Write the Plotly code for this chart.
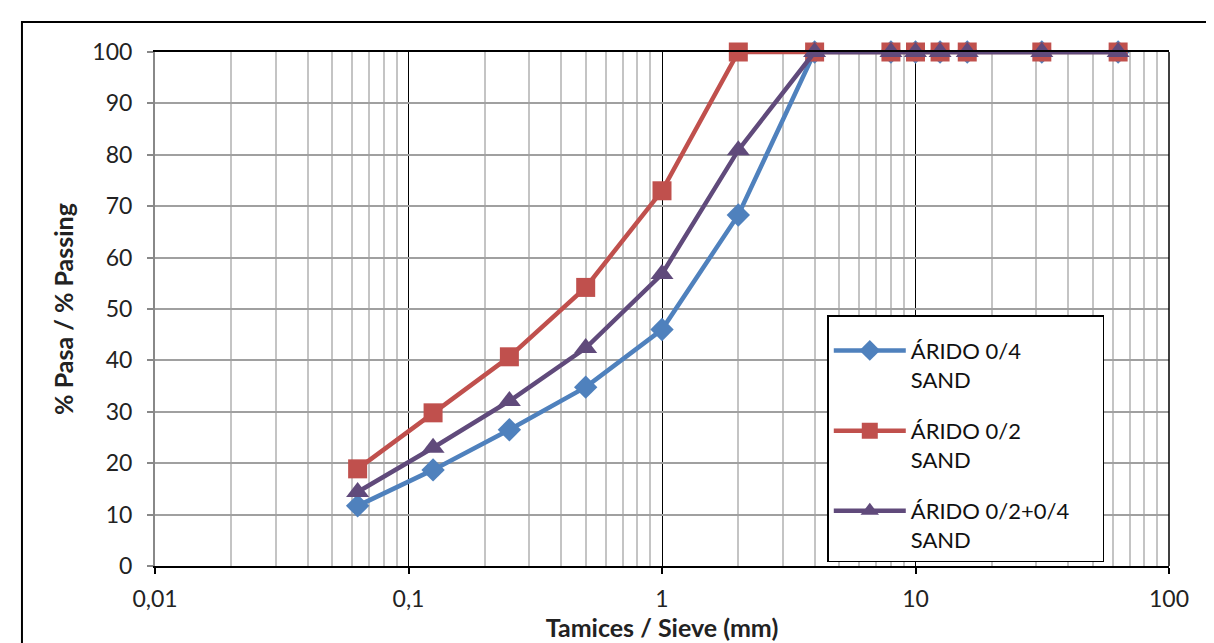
import plotly.graph_objects as go

sieves = [0.063, 0.125, 0.25, 0.5, 1, 2, 4, 8, 10, 12.5, 16, 31.5, 63]
arido_04 = [11.7, 18.7, 26.5, 34.8, 46.0, 68.3, 100, 100, 100, 100, 100, 100, 100]
arido_02 = [18.9, 29.8, 40.7, 54.2, 73.0, 100, 100, 100, 100, 100, 100, 100, 100]
arido_mix = [14.4, 23.0, 32.1, 42.4, 56.8, 80.9, 100, 100, 100, 100, 100, 100, 100]

names = ["ÁRIDO 0/4<br>SAND", "ÁRIDO 0/2<br>SAND", "ÁRIDO 0/2+0/4&nbsp;&nbsp;&nbsp;&nbsp;&nbsp;<br>SAND"]
colors = ["#4F81BD", "#C0504D", "#604A7B"]
symbols = ["diamond", "square", "triangle-up"]
sizes = [18, 19, 20]

x_tickvals = [0.01, 0.1, 1, 10, 100]
x_ticktext = ["0,01", "0,1", "1", "10", "100"]
y_tickvals = list(range(0, 101, 10))
minor_vals = [m * d for d in [0.01, 0.1, 1, 10] for m in range(2, 10)]

FONT = "Lato, 'Open Sans', sans-serif"

fig = go.Figure()
for i, ys in enumerate([arido_04, arido_02, arido_mix]):
    fig.add_trace(go.Scatter(
        x=sieves, y=ys, name=names[i], mode="lines+markers",
        line=dict(color=colors[i], width=4.5),
        marker=dict(symbol=symbols[i], size=sizes[i], color=colors[i]),
        legendgroup=str(i), cliponaxis=False,
    ))

fig.update_layout(
    width=1214, height=643,
    margin=dict(l=147, r=53, t=44, b=85, autoexpand=False),
    paper_bgcolor="white", plot_bgcolor="white",
    font=dict(family=FONT, size=22, color="#222"),
    showlegend=True,
    legend=dict(
        x=0.663, y=0.488, xanchor="left", yanchor="top",
        bordercolor="black", borderwidth=1.5, bgcolor="white",
        font=dict(family=FONT, size=22, color="#111"),
        tracegroupgap=20, traceorder="grouped",
        itemwidth=72, valign="top",
        title=dict(text=" ", font=dict(size=10)),
    ),
    xaxis=dict(
        type="log", range=[-2, 2], automargin=False,
        tickvals=x_tickvals, ticktext=x_ticktext,
        showgrid=True, gridcolor="black", gridwidth=1.2,
        ticks="outside", ticklen=6, tickcolor="black", tickwidth=1.5,
        showline=True, linecolor="black", linewidth=1.5, mirror=True,
        minor=dict(tickvals=minor_vals, showgrid=True, gridcolor="#c4c4c4", gridwidth=1.5, ticks=""),
        tickfont=dict(size=23), ticklabelstandoff=6,
        title=dict(text="<b>Tamices / Sieve (mm)</b>", font=dict(size=25), standoff=7),
        zeroline=False,
    ),
    yaxis=dict(
        range=[0, 100], automargin=False, tickvals=y_tickvals,
        showgrid=True, gridcolor="#a0a0a0", gridwidth=1.5,
        ticks="outside", ticklen=6, tickcolor="#888", tickwidth=1.5,
        showline=True, linecolor="#888", linewidth=2,
        tickfont=dict(size=23), ticklabelstandoff=10,
        title=dict(text="<b>% Pasa / % Passing</b>", font=dict(size=25), standoff=12),
        zeroline=False,
    ),
    shapes=[
        dict(type="rect", xref="paper", yref="paper",
             x0=-0.1312, x1=1.06, y0=-0.25, y1=1.0584,
             line=dict(color="black", width=2), layer="below"),
        dict(type="line", xref="paper", yref="paper",
             x0=1, x1=1, y0=0, y1=1, line=dict(color="black", width=1.5)),
    ],
)

fig.write_html("out.html")
